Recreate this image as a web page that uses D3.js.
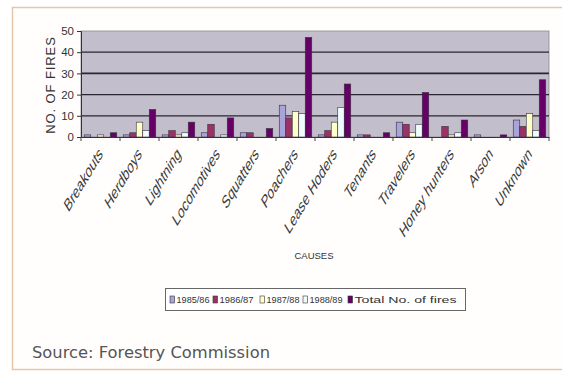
<!DOCTYPE html>
<html>
<head>
<meta charset="utf-8">
<script src="https://cdn.jsdelivr.net/npm/d3@7"></script>
<style>
  html, body { margin: 0; padding: 0; background: #ffffff; }
  svg { display: block; }
</style>
</head>
<body>
<svg id="chart" width="562" height="376"></svg>
<script>
// Causes of forest fires, by season
const causes = ["Breakouts", "Herdboys", "Lightning", "Locomotives", "Squatters", "Poachers",
  "Lease Hoders", "Tenants", "Travelers", "Honey hunters", "Arson", "Unknown"];
const seriesNames = ["1985/86", "1986/87", "1987/88", "1988/89", "Total No. of fires"];
const fires1985 = [1, 1, 1, 2, 2, 15, 1, 1, 7, 0, 1, 8];
const fires1986 = [0, 2, 3, 6, 2, 9, 3, 1, 6, 5, 0, 5];
const fires1987 = [1, 7, 1, 0, 0, 12, 7, 0, 2, 1, 0, 11];
const fires1988 = [0, 3, 2, 1, 0, 11, 14, 0, 6, 2, 0, 3];
const firesTotal = [2, 13, 7, 9, 4, 47, 25, 2, 21, 8, 1, 27];
const yTicks = [0, 10, 20, 30, 40, 50];
const seriesColors = ["#a8a3d8", "#993366", "#ffffcc", "#eefcfc", "#660066"];

const seriesValues = [fires1985, fires1986, fires1987, fires1988, firesTotal];
const rows = causes.map((c, i) => ({
  cause: c,
  values: seriesNames.map((s, k) => ({ series: s, value: seriesValues[k][i] }))
}));

const svg = d3.select("#chart");

// outer frame
svg.append("rect")
  .attr("x", 12.5).attr("y", 7.5).attr("width", 560).attr("height", 362)
  .attr("fill", "#fffefc").attr("stroke", "#e6c6a8").attr("stroke-width", 1.5);

const plot = { left: 81, right: 549, top: 31, bottom: 137 };

const x = d3.scaleBand().domain(causes).range([plot.left, plot.right]).padding(0);
const xs = d3.scaleBand().domain(seriesNames).range([0, x.bandwidth()])
  .paddingInner(0).paddingOuter(0.5);
const y = d3.scaleLinear().domain([0, 50]).range([plot.bottom, plot.top]);
const color = d3.scaleOrdinal().domain(seriesNames).range(seriesColors);

// plot background
svg.append("rect")
  .attr("x", plot.left).attr("y", plot.top)
  .attr("width", plot.right - plot.left).attr("height", plot.bottom - plot.top)
  .attr("fill", "#c2becb").attr("stroke", "#8d8a94").attr("stroke-width", 0.8);

// gridlines
svg.append("g").selectAll("line")
  .data(yTicks.filter(t => t > 0 && t < 50))
  .join("line")
  .attr("x1", plot.left).attr("x2", plot.right)
  .attr("y1", d => y(d)).attr("y2", d => y(d))
  .attr("stroke", "#2a2730").attr("stroke-width", d => d === 30 ? 1.7 : 1.2);

// bars
const groups = svg.append("g").selectAll("g")
  .data(rows)
  .join("g")
  .attr("transform", d => `translate(${x(d.cause)},0)`);

groups.selectAll("rect")
  .data(d => d.values.filter(v => v.value > 0))
  .join("rect")
  .attr("x", d => xs(d.series))
  .attr("width", xs.bandwidth())
  .attr("y", d => y(d.value))
  .attr("height", d => y(0) - y(d.value))
  .attr("fill", d => color(d.series))
  .attr("stroke", "#3a3040").attr("stroke-width", 0.6);

// y axis
const yAxis = d3.axisLeft(y).tickValues(yTicks).tickSize(4).tickPadding(3);
const gy = svg.append("g").attr("transform", `translate(${plot.left},0)`).call(yAxis);
gy.select(".domain").attr("stroke", "#333");
gy.selectAll(".tick line").attr("stroke", "#333");
gy.selectAll("text")
  .attr("font-family", "'Liberation Sans Narrow', 'Liberation Sans', sans-serif")
  .attr("font-size", 11.5).attr("fill", "#333");

// x axis
const xAxis = d3.axisBottom(x).tickSize(0).tickFormat("");
const gx = svg.append("g").attr("transform", `translate(0,${plot.bottom})`).call(xAxis);
gx.select(".domain").attr("stroke", "#333");
gx.selectAll(".boundary")
  .data(d3.range(causes.length + 1))
  .join("line")
  .attr("class", "boundary")
  .attr("x1", i => plot.left + i * x.step()).attr("x2", i => plot.left + i * x.step())
  .attr("y1", 0).attr("y2", 4)
  .attr("stroke", "#444");

// slanted category labels
svg.append("g").selectAll("text")
  .data(causes)
  .join("text")
  .attr("transform", d => `translate(${x(d) + x.bandwidth() / 2 + 3},${plot.bottom + 18}) scale(1.0,1.65) rotate(-45)`)
  .attr("text-anchor", "end")
  .attr("font-family", "'Liberation Sans', Arial, sans-serif")
  .attr("font-size", 11)
  .attr("fill", "#3a3a3a")
  .text(d => d);

// axis titles
svg.append("text")
  .attr("transform", `translate(55,${(plot.top + plot.bottom) / 2 + 1}) rotate(-90)`)
  .attr("text-anchor", "middle")
  .attr("font-family", "'Liberation Sans', Arial, sans-serif")
  .attr("font-size", 13).attr("letter-spacing", 0.9)
  .attr("fill", "#333")
  .text("NO. OF FIRES");

svg.append("text")
  .attr("x", 314).attr("y", 259)
  .attr("text-anchor", "middle")
  .attr("font-family", "'Liberation Sans Narrow', 'Liberation Sans', sans-serif")
  .attr("font-size", 9.5)
  .attr("fill", "#333")
  .text("CAUSES");

// legend
const legend = svg.append("g");
legend.append("rect")
  .attr("x", 165.5).attr("y", 288.5).attr("width", 300).attr("height", 22)
  .attr("fill", "#ffffff").attr("stroke", "#666").attr("stroke-width", 1);
const legendX = [170, 213, 260, 303, 348];
const legendTextWidth = [33, 34, 33, 33, 102];
const items = legend.selectAll("g.item")
  .data(seriesNames)
  .join("g")
  .attr("class", "item")
  .attr("transform", (d, i) => `translate(${legendX[i]},299.5)`);
items.append("rect")
  .attr("x", 0).attr("y", -3.5).attr("width", 4.5).attr("height", 7)
  .attr("fill", d => color(d)).attr("stroke", "#333").attr("stroke-width", 0.6);
items.append("text")
  .attr("x", 6.5).attr("y", 3.5)
  .attr("font-family", "'Liberation Sans Narrow', 'Liberation Sans', sans-serif")
  .attr("font-size", 9.5).attr("fill", "#333")
  .attr("textLength", (d, i) => legendTextWidth[i])
  .attr("lengthAdjust", "spacingAndGlyphs")
  .text(d => d);

// source note
svg.append("text")
  .attr("x", 32).attr("y", 358)
  .attr("font-family", "'DejaVu Sans', sans-serif")
  .attr("font-size", 15).attr("fill", "#555")
  .attr("textLength", 238).attr("lengthAdjust", "spacingAndGlyphs")
  .text("Source: Forestry Commission");
</script>
</body>
</html>
